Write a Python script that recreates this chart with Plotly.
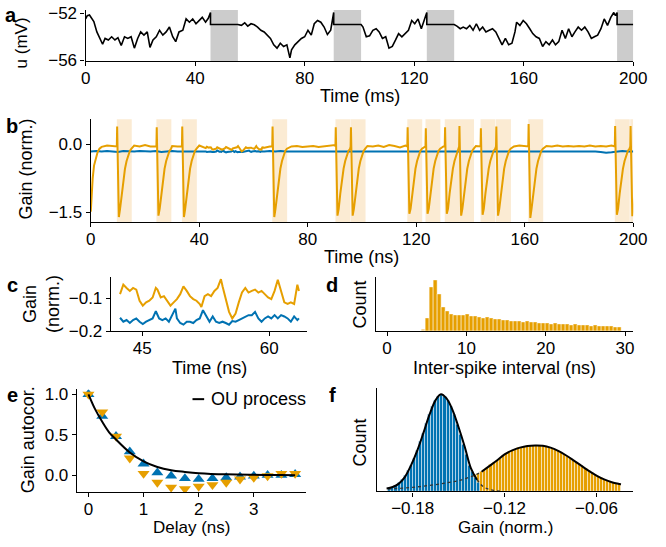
import plotly.graph_objects as go

W, H = 666, 547
FONT = "Liberation Sans, Arial, sans-serif"
ORANGE = "#E69F00"
BLUE = "#0072B2"
BAND = "#FBEBD3"
GRAY = "#CCCCCC"

# ---------------- panel a : membrane potential ----------------
a_time = [0, 0.6, 1.4, 2.1, 3.0, 4.1, 5.3, 6.2, 7.1, 8.3, 9.5, 10.7, 11.8, 13.0, 14.2, 15.4, 16.6, 17.8, 19.0, 20.1,
          21.3, 22.5, 23.5, 24.6, 25.8, 27.0, 28.2, 29.4, 30.6, 31.8, 32.9, 34.1, 35.5, 36.7, 37.9, 39.1, 40.3, 41.4, 42.6, 43.8,
          44.8, 45.6, 45.6, 55.6,
          56.9, 58.1, 59.2, 60.4, 61.6, 62.8, 64.0, 65.2, 66.4, 67.5, 68.7, 69.9, 71.1, 72.3, 73.5, 74.6, 75.2, 76.4, 77.6, 78.8,
          80.0, 81.2, 82.4, 83.5, 84.7, 85.9, 87.1, 88.3, 89.5, 90.6, 90.6, 100.6,
          101.3, 102.5, 103.7, 104.9, 106.1, 107.2, 108.4, 109.6, 110.8, 112.0, 113.2, 114.3, 115.5, 116.7, 117.9, 119.1, 120.2,
          121.4, 122.6, 123.8, 124.6, 124.6, 134.6,
          135.6, 136.8, 137.9, 139.1, 140.3, 141.5, 142.7, 143.9, 145.0, 146.2, 147.4, 148.6, 149.8, 150.9, 152.1, 153.3, 154.5,
          155.7, 156.8, 157.4, 158.6, 159.8, 161.0, 162.2, 163.3, 164.5, 165.7, 166.9, 168.1, 169.3, 170.5, 171.6, 172.8, 174.0,
          175.2, 176.4, 177.6, 178.7, 179.9, 181.1, 182.3, 183.5, 184.7, 185.8, 187.0, 188.2, 189.4, 190.6, 191.8, 192.9, 193.5,
          194.1, 194.1, 200.0]
a_u = [-52.49, -52.22, -52.16, -52.36, -52.71, -53.59, -54.14, -54.63, -54.14, -54.27, -54.0, -54.27, -54.08, -54.74, -54.0,
       -54.14, -54.0, -54.96, -54.14, -53.59, -53.86, -53.59, -54.9, -54.27, -54.0, -53.45, -53.86, -53.59, -53.18, -54.0,
       -54.41, -53.59, -53.45, -52.49, -52.77, -52.49, -52.9, -52.63, -52.36, -52.77, -52.44, -51.95, -52.96, -52.96,
       -53.04, -52.82, -53.1, -52.9, -52.99, -53.18, -53.45, -53.59, -53.86, -54.14, -54.68, -54.96, -54.55, -54.82, -54.68,
       -55.78, -55.1, -54.68, -54.41, -54.14, -54.0, -53.45, -53.86, -52.9, -52.63, -52.77, -53.18, -53.81, -53.45, -51.95,
       -52.96, -52.96,
       -53.18, -54.0, -53.92, -53.45, -53.32, -53.59, -54.14, -54.0, -54.96, -54.82, -54.27, -53.73, -54.0, -53.73, -53.45,
       -52.63, -52.9, -52.49, -53.32, -52.49, -51.95, -52.96, -52.96,
       -53.1, -53.32, -53.18, -53.32, -53.04, -53.45, -52.9, -53.45, -53.18, -53.59, -53.45, -53.32, -53.59, -54.14, -54.68,
       -54.14, -54.68, -54.55, -53.59, -52.77, -53.04, -52.63, -52.9, -53.32, -53.73, -54.0, -54.14, -54.82, -54.41, -54.68,
       -54.27, -54.68, -54.41, -53.45, -54.14, -53.32, -54.0, -53.59, -53.18, -53.45, -53.18, -53.59, -54.14, -54.0, -53.86,
       -53.32, -52.49, -53.04, -52.36, -51.95, -52.22, -51.95, -52.96, -52.96]
a_refractory_start = [45.6, 90.6, 124.6, 194.1]
a_refractory_len = 10.0

# ---------------- panel b : gain traces ----------------
b_spike_t = [9.6, 24.2, 33.6, 66.9, 90.2, 95.8, 116.7, 123.4, 130.5, 135.8, 143.7, 149.4, 161.3, 193.2, 198.9]
b_spike_peak = [0.39, 0.37, 0.39, 0.39, 0.37, 0.37, 0.37, 0.35, 0.37, 0.40, 0.35, 0.39, 0.44, 0.40, 0.40]
b_spike_min = [-1.60, -1.57, -1.60, -1.60, -1.57, -1.57, -1.53, -1.53, -1.53, -1.57, -1.55, -1.57, -1.62, -1.55, -1.58]
b_band_len = 5.5
b_recov_dt = [1.2, 1.8, 2.4, 3.0, 3.6, 4.2, 4.8, 5.4]
b_recov_v = [-1.42, -1.08, -0.78, -0.54, -0.37, -0.24, -0.15, -0.10]
b_init_t = [0, 0.3, 0.7, 1.2, 1.8, 2.5, 3.2, 4.0]
b_init_v = [-1.48, -1.10, -0.75, -0.47, -0.30, -0.18, -0.10, -0.06]
b_grid_t = list(range(0, 201, 2))
b_orange_base = [-0.06, -0.06, -0.05, -0.03, -0.04, -0.05, -0.05, -0.05, -0.03, -0.05,
                 -0.02, -0.05, -0.06, -0.05, -0.05, -0.04, -0.05, -0.05, -0.05, -0.05,
                 -0.03, -0.06, -0.08, -0.10, -0.09, -0.08, -0.09, -0.08, -0.10, -0.08,
                 -0.08, -0.10, -0.08, -0.05, -0.05, -0.05, -0.05, -0.05, -0.04, -0.06,
                 -0.05, -0.04, -0.06, -0.05, -0.04, -0.02, -0.05, -0.05, -0.05, -0.05,
                 -0.05, -0.04, -0.05, -0.03, -0.06, -0.02, -0.04, -0.07, -0.03, -0.05,
                 -0.05, -0.05, -0.05, -0.05, -0.05, -0.05, -0.05, -0.05, -0.05, -0.05,
                 -0.05, -0.04, -0.05, -0.05, -0.05, -0.05, -0.05, -0.05, -0.05, -0.03,
                 -0.04, -0.05, -0.05, -0.05, -0.04, -0.05, -0.03, -0.05, -0.04, -0.05,
                 -0.04, -0.05, -0.03, -0.05, -0.04, -0.05, -0.03, -0.05, -0.05, -0.05, -0.05]
b_blue_base = [-0.16, -0.15, -0.16, -0.15, -0.16, -0.17, -0.15, -0.16, -0.16, -0.15,
               -0.16, -0.16, -0.15, -0.17, -0.16, -0.15, -0.16, -0.16, -0.15, -0.16,
               -0.16, -0.16, -0.17, -0.16, -0.17, -0.17, -0.16, -0.17, -0.16, -0.16,
               -0.16, -0.16, -0.16, -0.15, -0.16, -0.15, -0.16, -0.16, -0.15, -0.16,
               -0.15, -0.16, -0.16, -0.15, -0.16, -0.15, -0.16, -0.16, -0.15, -0.16,
               -0.15, -0.16, -0.16, -0.15, -0.16, -0.15, -0.16, -0.16, -0.15, -0.16,
               -0.15, -0.16, -0.16, -0.15, -0.16, -0.15, -0.16, -0.16, -0.15, -0.16,
               -0.15, -0.16, -0.16, -0.15, -0.16, -0.15, -0.16, -0.16, -0.15, -0.16,
               -0.16, -0.15, -0.16, -0.15, -0.16, -0.15, -0.16, -0.16, -0.15, -0.16,
               -0.15, -0.16, -0.16, -0.16, -0.17, -0.19, -0.18, -0.16, -0.15, -0.16, -0.16]

# ---------------- panel c : zoom 42-64 ns ----------------
c_orange_t = [42.38, 42.77, 43.15, 43.54, 43.92, 44.3, 44.69, 45.07, 45.46, 45.84, 46.23, 46.61, 46.8, 47.19, 47.57, 47.95,
              48.34, 48.72, 49.1, 49.49, 49.87, 50.26, 50.64, 51.03, 51.41, 51.8, 51.99, 52.37, 52.76, 53.14, 53.53, 53.91,
              54.3, 54.49, 54.87, 55.26, 55.64, 56.03, 56.41, 56.79, 57.18, 57.56, 57.95, 58.33, 58.72, 59.1, 59.48, 59.87,
              60.25, 60.64, 61.02, 61.41, 61.79, 62.18, 62.56, 62.95, 63.14, 63.33, 63.52]
c_orange_v = [-0.087, -0.058, -0.068, -0.077, -0.068, -0.073, -0.107, -0.122, -0.112, -0.107, -0.097, -0.068, -0.073, -0.097,
              -0.093, -0.107, -0.122, -0.112, -0.102, -0.087, -0.063, -0.077, -0.093, -0.102, -0.107, -0.117, -0.126, -0.093,
              -0.087, -0.093, -0.077, -0.068, -0.041, -0.063, -0.102, -0.141, -0.161, -0.146, -0.112, -0.082, -0.068, -0.082,
              -0.077, -0.073, -0.082, -0.077, -0.087, -0.097, -0.102, -0.077, -0.043, -0.082, -0.112, -0.117, -0.112, -0.117,
              -0.082, -0.058, -0.077]
c_blue_t = [42.38, 42.77, 43.15, 43.54, 43.92, 44.3, 44.69, 45.07, 45.46, 45.84, 46.23, 46.61, 47.0, 47.38, 47.77, 48.15,
            48.53, 48.92, 49.1, 49.49, 49.87, 50.26, 50.64, 51.03, 51.41, 51.8, 52.18, 52.56, 52.95, 53.33, 53.72, 54.1,
            54.49, 54.87, 55.26, 55.64, 56.03, 56.41, 56.79, 57.18, 57.56, 57.95, 58.33, 58.72, 59.1, 59.48, 59.87, 60.25,
            60.64, 61.02, 61.41, 61.79, 62.18, 62.56, 62.95, 63.33, 63.52]
c_blue_v = [-0.159, -0.171, -0.166, -0.175, -0.166, -0.161, -0.171, -0.178, -0.171, -0.166, -0.161, -0.139, -0.161, -0.166,
            -0.161, -0.171, -0.151, -0.131, -0.161, -0.175, -0.180, -0.171, -0.171, -0.175, -0.166, -0.161, -0.136, -0.155,
            -0.171, -0.155, -0.171, -0.175, -0.171, -0.175, -0.180, -0.169, -0.171, -0.166, -0.161, -0.155, -0.151, -0.151,
            -0.141, -0.161, -0.171, -0.161, -0.155, -0.161, -0.151, -0.161, -0.151, -0.155, -0.161, -0.171, -0.155, -0.166,
            -0.161]

# ---------------- panel d : ISI histogram ----------------
d_bin_start = 4.35
d_bin_width = 0.505
d_counts = [7, 41, 135, 156, 113, 73, 61, 53, 50, 50, 48, 52, 47, 45, 43, 41, 43, 41, 38, 36,
            33, 33, 31, 32, 30, 29, 30, 27, 28, 25, 26, 25, 23, 24, 22, 21, 22, 20, 21, 19,
            20, 18, 17, 19, 16, 17, 14, 15, 13, 13]

# ---------------- panel e : autocorrelation ----------------
e_delay = [0, 0.25, 0.5, 0.75, 1.0, 1.25, 1.5, 1.75, 2.0, 2.25, 2.5, 2.75, 3.0, 3.25, 3.5, 3.75]
e_blue = [1.0, 0.73, 0.48, 0.29, 0.14, 0.03, -0.01, -0.04, -0.05, -0.04, -0.03, -0.02, -0.01, 0.0, 0.0, 0.01]
e_orange = [1.0, 0.78, 0.48, 0.21, 0.02, -0.09, -0.15, -0.17, -0.14, -0.12, -0.09, -0.05, -0.03, -0.01, 0.02, 0.02]
e_ou_delay = [0, 0.125, 0.25, 0.375, 0.5, 0.75, 1.0, 1.25, 1.5, 1.75, 2.0, 2.5, 3.0, 3.5, 3.75]
e_ou = [1.0, 0.81, 0.66, 0.53, 0.44, 0.28, 0.17, 0.10, 0.06, 0.04, 0.025, 0.01, 0.004, 0.001, 0.0]

# ---------------- panel f : gain histograms ----------------
f_bin_width = 0.002
f_blue_start = -0.196
f_blue_counts = [3, 4, 6, 9, 12, 16, 21, 27, 34, 42, 51, 60, 70, 79, 87, 94, 98, 100, 98, 94,
                 87, 79, 69, 59, 48, 38, 27, 20, 14, 9]
f_orange_start = -0.196
f_orange_counts = [2.5, 2.7, 2.9, 3.1, 3.3, 3.5, 3.8, 4.1, 4.4, 4.7, 5.0, 5.4, 5.8, 6.2, 6.6, 7.0, 7.5, 8.0, 8.5, 9.0,
                   9.5, 10.1, 10.7, 11.5, 12.4, 13.5, 14.6, 15.8, 17.0, 18.5, 20.2, 22.3, 24.8, 27.2, 29.5, 31.8, 34.2,
                   37.2, 39.3, 40.9, 42.3, 43.6, 44.7, 45.6, 46.3, 46.8, 47.1, 47.3, 47.3, 47.2, 47.0, 46.4, 45.6, 44.6,
                   43.2, 41.7, 40.1, 38.2, 36.2, 34.1, 32.0, 29.8, 27.6, 25.4, 23.2, 21.1, 19.1, 17.2, 15.4, 13.8, 12.3,
                   11.0, 9.9, 9.0, 8.2, 7.6]
f_blue_fit_x = [-0.197, -0.193, -0.189, -0.185, -0.181, -0.177, -0.173, -0.169, -0.165, -0.1615, -0.158, -0.154, -0.150,
                -0.146, -0.142, -0.138, -0.134, -0.130, -0.126, -0.122]
f_blue_fit = [3, 4.5, 8, 15, 27, 42, 60, 79, 94, 100, 96, 84, 66, 46, 24, 12, 5, 2, 0.7, 0.2]
f_orange_fit_x = [-0.196, -0.19, -0.185, -0.18, -0.175, -0.17, -0.165, -0.16, -0.155, -0.15, -0.145, -0.14, -0.135, -0.13,
                  -0.125, -0.12, -0.115, -0.11, -0.105, -0.1, -0.095, -0.09, -0.085, -0.08, -0.075, -0.07, -0.065, -0.06,
                  -0.055, -0.05, -0.045, -0.044]
f_orange_fit = [2.4, 3.0, 3.5, 4.2, 5.0, 6.0, 7.0, 8.2, 9.5, 11.0, 13.5, 16.2, 20.2, 26.0, 31.8, 38.2, 42.3, 45.1, 46.8,
                47.3, 47.0, 45.1, 41.7, 37.2, 32.0, 26.5, 21.1, 16.3, 12.3, 9.4, 7.6, 7.3]
f_overlap_edge = -0.138   # where blue bars end / orange fit emerges

# ============ assemble the b traces from the read pieces ============
def in_spike_window(t):
    for s in b_spike_t:
        if s - 0.01 <= t < s + 5.6:
            return True
    return False

c_lo, c_hi = c_orange_t[0], c_orange_t[-1]
orange_pts = list(zip(b_init_t, b_init_v))
for t, v in zip(b_grid_t, b_orange_base):
    if t <= b_init_t[-1] or (c_lo - 0.4 < t < c_hi + 0.4) or in_spike_window(t):
        continue
    orange_pts.append((t, v))
orange_pts += list(zip(c_orange_t, c_orange_v))
for i, s in enumerate(b_spike_t):
    nxt = b_spike_t[i + 1] if i + 1 < len(b_spike_t) else 1e9
    pts = [(s, -0.05), (s + 0.12, b_spike_peak[i]), (s + 0.75, b_spike_min[i])]
    pts += [(s + d, v) for d, v in zip(b_recov_dt, b_recov_v)]
    orange_pts += [(t, v) for t, v in pts if t < nxt]
orange_pts.sort(key=lambda p: p[0])

blue_pts = [(t, v) for t, v in zip(b_grid_t, b_blue_base) if not (c_lo - 0.4 < t < c_hi + 0.4)]
blue_pts += list(zip(c_blue_t, c_blue_v))
blue_pts.sort(key=lambda p: p[0])

# ============ figure ============
fig = go.Figure()

# a
fig.add_trace(go.Scatter(x=a_time, y=a_u, mode="lines", line=dict(color="black", width=1.6),
                         xaxis="x", yaxis="y", showlegend=False))
# b
fig.add_trace(go.Scatter(x=[p[0] for p in blue_pts], y=[p[1] for p in blue_pts], mode="lines",
                         line=dict(color=BLUE, width=2), xaxis="x2", yaxis="y2", showlegend=False))
fig.add_trace(go.Scatter(x=[p[0] for p in orange_pts], y=[p[1] for p in orange_pts], mode="lines",
                         line=dict(color=ORANGE, width=2), xaxis="x2", yaxis="y2", showlegend=False))
# c
fig.add_trace(go.Scatter(x=c_orange_t, y=c_orange_v, mode="lines", line=dict(color=ORANGE, width=2),
                         xaxis="x3", yaxis="y3", showlegend=False))
fig.add_trace(go.Scatter(x=c_blue_t, y=c_blue_v, mode="lines", line=dict(color=BLUE, width=2),
                         xaxis="x3", yaxis="y3", showlegend=False))
# d
d_centers = [d_bin_start + d_bin_width * (k + 0.5) for k in range(len(d_counts))]
d_colors = ["#F3CF85"] + [ORANGE] * (len(d_counts) - 1)
fig.add_trace(go.Bar(x=d_centers, y=d_counts, width=d_bin_width, marker=dict(color=d_colors,
                     line=dict(color="white", width=0.5)), xaxis="x4", yaxis="y4", showlegend=False))
# e
fig.add_trace(go.Scatter(x=e_delay, y=e_blue, mode="markers",
                         marker=dict(symbol="triangle-up", size=10.5, color=BLUE),
                         xaxis="x5", yaxis="y5", showlegend=False))
fig.add_trace(go.Scatter(x=e_delay, y=e_orange, mode="markers",
                         marker=dict(symbol="triangle-down", size=10.5, color=ORANGE),
                         xaxis="x5", yaxis="y5", showlegend=False))
fig.add_trace(go.Scatter(x=e_ou_delay, y=e_ou, mode="lines", line=dict(color="black", width=2, shape="spline"),
                         xaxis="x5", yaxis="y5", showlegend=False))
# f
f_or_x = [f_orange_start + f_bin_width * (k + 0.5) for k in range(len(f_orange_counts))]
f_bl_x = [f_blue_start + f_bin_width * (k + 0.5) for k in range(len(f_blue_counts))]
fig.add_trace(go.Bar(x=f_or_x, y=f_orange_counts, width=f_bin_width,
                     marker=dict(color=ORANGE, line=dict(color="white", width=0.5)),
                     xaxis="x6", yaxis="y6", showlegend=False))
fig.add_trace(go.Bar(x=f_bl_x, y=f_blue_counts, width=f_bin_width,
                     marker=dict(color=BLUE, line=dict(color="white", width=0.5)),
                     xaxis="x6", yaxis="y6", showlegend=False))


def split_fit(xs, ys, visible_left):
    """Split a fit curve into the part drawn in full and the part hidden behind the other bars."""
    vis, hid = ([], []), ([], [])
    for x, y in zip(xs, ys):
        left = x <= f_overlap_edge
        tgt = vis if left == visible_left else hid
        tgt[0].append(x)
        tgt[1].append(y)
    return vis, hid


o_vis, o_hid = split_fit(f_orange_fit_x, f_orange_fit, visible_left=False)
b_vis, b_hid = split_fit(f_blue_fit_x, f_blue_fit, visible_left=True)
o_hid = (o_hid[0] + o_vis[0][:1], o_hid[1] + o_vis[1][:1])
b_hid = (b_vis[0][-1:] + b_hid[0], b_vis[1][-1:] + b_hid[1])
for xs, ys in (o_hid, b_hid):
    fig.add_trace(go.Scatter(x=xs, y=ys, mode="lines", line=dict(color="#333333", width=1.3, dash="dot",
                             shape="spline"), xaxis="x6", yaxis="y6", showlegend=False))
for xs, ys in (o_vis, b_vis):
    fig.add_trace(go.Scatter(x=xs, y=ys, mode="lines", line=dict(color="black", width=2, shape="spline"),
                             xaxis="x6", yaxis="y6", showlegend=False))


def ax(domain, rng, anchor, **kw):
    d = dict(domain=domain, range=rng, anchor=anchor, showline=True, linecolor="black", linewidth=1.3,
             ticks="outside", ticklen=4, tickwidth=1.3, tickcolor="black", showgrid=False, zeroline=False,
             tickfont=dict(family=FONT, size=17, color="black"), fixedrange=True)
    d.update(kw)
    return d


def dx(a, b):
    return [a / W, b / W]


def dy(top, bottom):
    return [1 - bottom / H, 1 - top / H]


NOTICK = dict(showticklabels=False, ticks="")
XT = dict(ticklabelstandoff=-3)

fig.update_layout(
    width=W, height=H, margin=dict(l=0, r=0, t=0, b=0),
    paper_bgcolor="white", plot_bgcolor="white", barmode="overlay", bargap=0,
    font=dict(family=FONT, size=17, color="black"),
    xaxis=ax(dx(83, 646.7), [0, 200], "y", tickvals=[0, 40, 80, 120, 160, 200], **XT),
    yaxis=ax(dy(4, 56.7), [-56.05, -51.73], "x", tickvals=[-52, -56], ticktext=["\u221252", "\u221256"]),
    xaxis2=ax(dx(88.3, 646.7), [0, 200], "y2", tickvals=[0, 40, 80, 120, 160, 200], **XT),
    yaxis2=ax(dy(116.7, 222.7), [-1.713, 0.546], "x2", tickvals=[0, -1.5], ticktext=["0.0", "\u22121.5"]),
    xaxis3=ax(dx(109, 310.7), [41.3, 64.45], "y3", tickvals=[45, 60], **XT),
    yaxis3=ax(dy(279.3, 335), [-0.2, -0.035], "x3", tickvals=[-0.1, -0.2], ticktext=["\u22120.1", "\u22120.2"]),
    xaxis4=ax(dx(382.3, 646), [-1.35, 30.95], "y4", tickvals=[0, 10, 20, 30], **XT),
    yaxis4=ax(dy(279.3, 335), [0, 165], "x4", **NOTICK),
    xaxis5=ax(dx(74, 310), [-0.21, 3.95], "y5", tickvals=[0, 1, 2, 3], **XT),
    yaxis5=ax(dy(395, 500.7), [-0.209, 1.06], "x5", tickvals=[0, 0.5, 1.0], ticktext=["0.0", "0.5", "1.0"]),
    xaxis6=ax(dx(382.7, 646.7), [-0.2034, -0.036], "y6", tickvals=[-0.18, -0.12, -0.06],
              ticktext=["\u22120.18", "\u22120.12", "\u22120.06"], **XT),
    yaxis6=ax(dy(393, 500), [0, 107], "x6", **NOTICK),
)

shapes = []
for s in a_refractory_start:
    shapes.append(dict(type="rect", xref="x", yref="y domain", x0=s, x1=min(s + a_refractory_len, 200), y0=0, y1=1,
                       fillcolor=GRAY, line=dict(width=0), layer="below"))
for s in b_spike_t:
    shapes.append(dict(type="rect", xref="x2", yref="y2 domain", x0=s, x1=min(s + b_band_len, 200), y0=0, y1=1,
                       fillcolor=BAND, line=dict(width=0), layer="below"))
shapes.append(dict(type="line", xref="paper", yref="paper", x0=193 / W, x1=205 / W, y0=1 - 405 / H, y1=1 - 405 / H,
                   line=dict(color="black", width=2)))
fig.update_layout(shapes=shapes)


def txt(text, x, y, size=17, angle=0, bold=False, xanchor="center"):
    if bold:
        text = "<b>" + text + "</b>"
    return dict(text=text, x=x / W, y=1 - y / H, xref="paper", yref="paper", showarrow=False,
                font=dict(family=FONT, size=size, color="black"), textangle=angle,
                xanchor=xanchor, yanchor="middle")


annotations = [
    txt("a", 6, 9, size=20, bold=True),
    txt("b", 7, 124, size=20, bold=True),
    txt("c", 8, 287, size=20, bold=True),
    txt("d", 337, 287, size=20, bold=True),
    txt("e", 8, 401, size=20, bold=True),
    txt("f", 337, 401, size=20, bold=True),
    txt("u (mV)", 17, 38),
    txt("Time (ms)", 365, 93, size=18),
    txt("Gain (norm.)", 22, 168, size=18, angle=-90),
    txt("Time (ns)", 367, 259, size=18),
    txt("Gain<br>(norm.)", 37, 307, size=18, angle=-90),
    txt("Time (ns)", 210, 373, size=18),
    txt("Count", 365, 308, size=18, angle=-90),
    txt("Inter-spike interval (ns)", 514, 373, size=18),
    txt("Gain autocor.", 24, 447, size=18, angle=-90),
    txt("Delay (ns)", 192, 537),
    txt("Count", 365, 450, size=18, angle=-90),
    txt("Gain (norm.)", 515, 537),
    txt("OU process", 210, 405, size=18, xanchor="left"),
]
annotations[6]["textangle"] = -90
fig.update_layout(annotations=annotations)

fig.write_html("out.html")
